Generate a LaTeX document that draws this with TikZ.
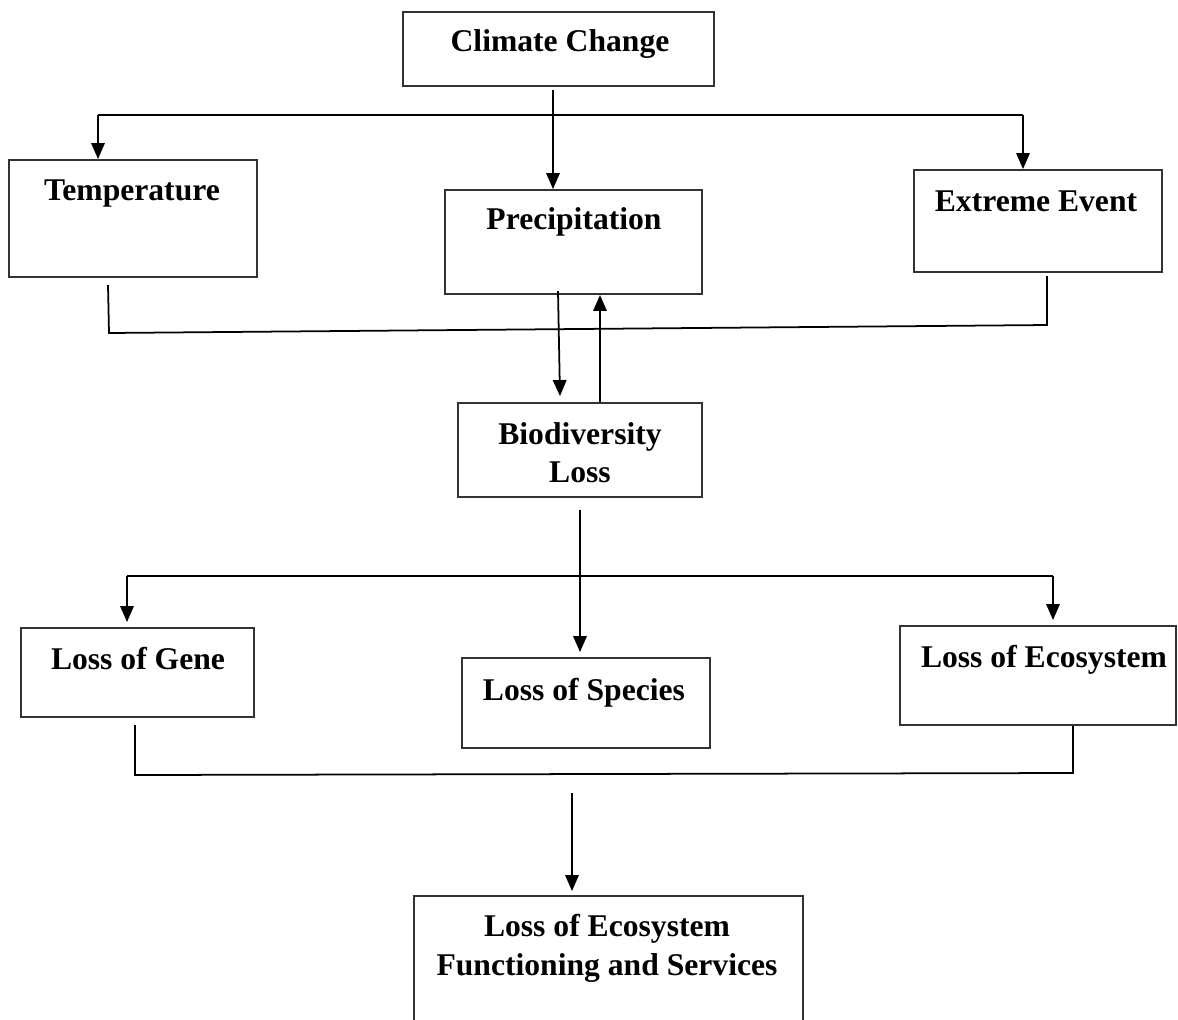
\documentclass[tikz,border=0pt]{standalone}
\usepackage{fontspec}
\setmainfont{Liberation Serif}
\usetikzlibrary{arrows.meta,fit,calc}
\begin{document}
\begin{tikzpicture}[x=0.02cm,y=-0.02cm,
  box/.style={draw=black!80,line width=1.1pt,inner sep=0pt,fill=none},
  lbl/.style={font=\fontsize{18}{22}\selectfont\bfseries,inner sep=0pt,align=center},
  ln/.style={draw=black,line width=1pt},
  arr/.style={ln,-{Triangle[length=0.32cm,width=0.27cm]}}]
\clip (0,0) rectangle (1178,1019);
\fill[white] (0,0) rectangle (1178,1019);
% boxes
\node[box,fit={(403,12) (714,86)}] (cc) {};
\node[box,fit={(9,160) (257,277)}] (te) {};
\node[box,fit={(445,190) (702,294)}] (pr) {};
\node[box,fit={(914,170) (1162,272)}] (ee) {};
\node[box,fit={(458,403) (702,497)}] (bl) {};
\node[box,fit={(21,628) (254,717)}] (lg) {};
\node[box,fit={(462,658) (710,748)}] (ls) {};
\node[box,fit={(900,626) (1176,725)}] (le) {};
\node[box,fit={(414,896) (803,1040)}] (lf) {};
% labels
\node[lbl,anchor=base] (ccl) at (560,51) {Climate Change};
\node[lbl,anchor=base] (tel) at (132,200) {Temperature};
\node[lbl,anchor=base] (prl) at (574,229) {Precipitation};
\node[lbl,anchor=base] (eel) at (1036,211) {Extreme Event};
\node[lbl,anchor=north] (bll) at (580,422) {Biodiversity\\Loss};
\node[lbl,anchor=base] (lgl) at (138,669) {Loss of Gene};
\node[lbl,anchor=base] (lsl) at (584,700) {Loss of Species};
\node[lbl,anchor=base] (lel) at (1044,667) {Loss of Ecosystem};
\node[lbl,anchor=north] (lfl) at (607,914) {Loss of Ecosystem\\Functioning and Services};
% top branching
\coordinate (j1) at (98,115);
\coordinate (j2) at (1023,115);
\coordinate (a1) at (553,90);
\draw[ln] (j1) -- (j2);
\draw[arr] (j1) -- (j1 |- te.north);
\draw[arr] (j2) -- (j2 |- ee.north);
\draw[arr] (a1) -- (a1 |- pr.north);
% joining line under first row
\coordinate (b1) at (108,285);
\coordinate (b2) at (1047,276);
\draw[ln] (b1) -- (109,333) -- (1047,325) -- (b2);
% precipitation <-> biodiversity
\coordinate (p1) at (558,291);
\coordinate (p2) at (600,402);
\draw[arr] (p1) -- ($(bl.north -| 560,0)+(0,-6)$);
\draw[arr] (p2) -- (p2 |- pr.south);
% biodiversity down
\coordinate (c1) at (580,510);
\coordinate (k1) at (127,576);
\coordinate (k2) at (1053,576);
\draw[ln] (k1) -- (k2);
\draw[arr] (c1) -- ($(c1 |- ls.north)+(0,-5)$);
\draw[arr] (k1) -- ($(k1 |- lg.north)+(0,-5)$);
\draw[arr] (k2) -- ($(k2 |- le.north)+(0,-5)$);
% joining line under second row
\coordinate (d1) at (135,725);
\coordinate (d2) at (1073,726);
\draw[ln] (d1) -- (135,775) -- (1073,773) -- (d2);
\coordinate (e1) at (572,793);
\draw[arr] (e1) -- ($(e1 |- lf.north)+(0,-4)$);
\end{tikzpicture}
\end{document}
